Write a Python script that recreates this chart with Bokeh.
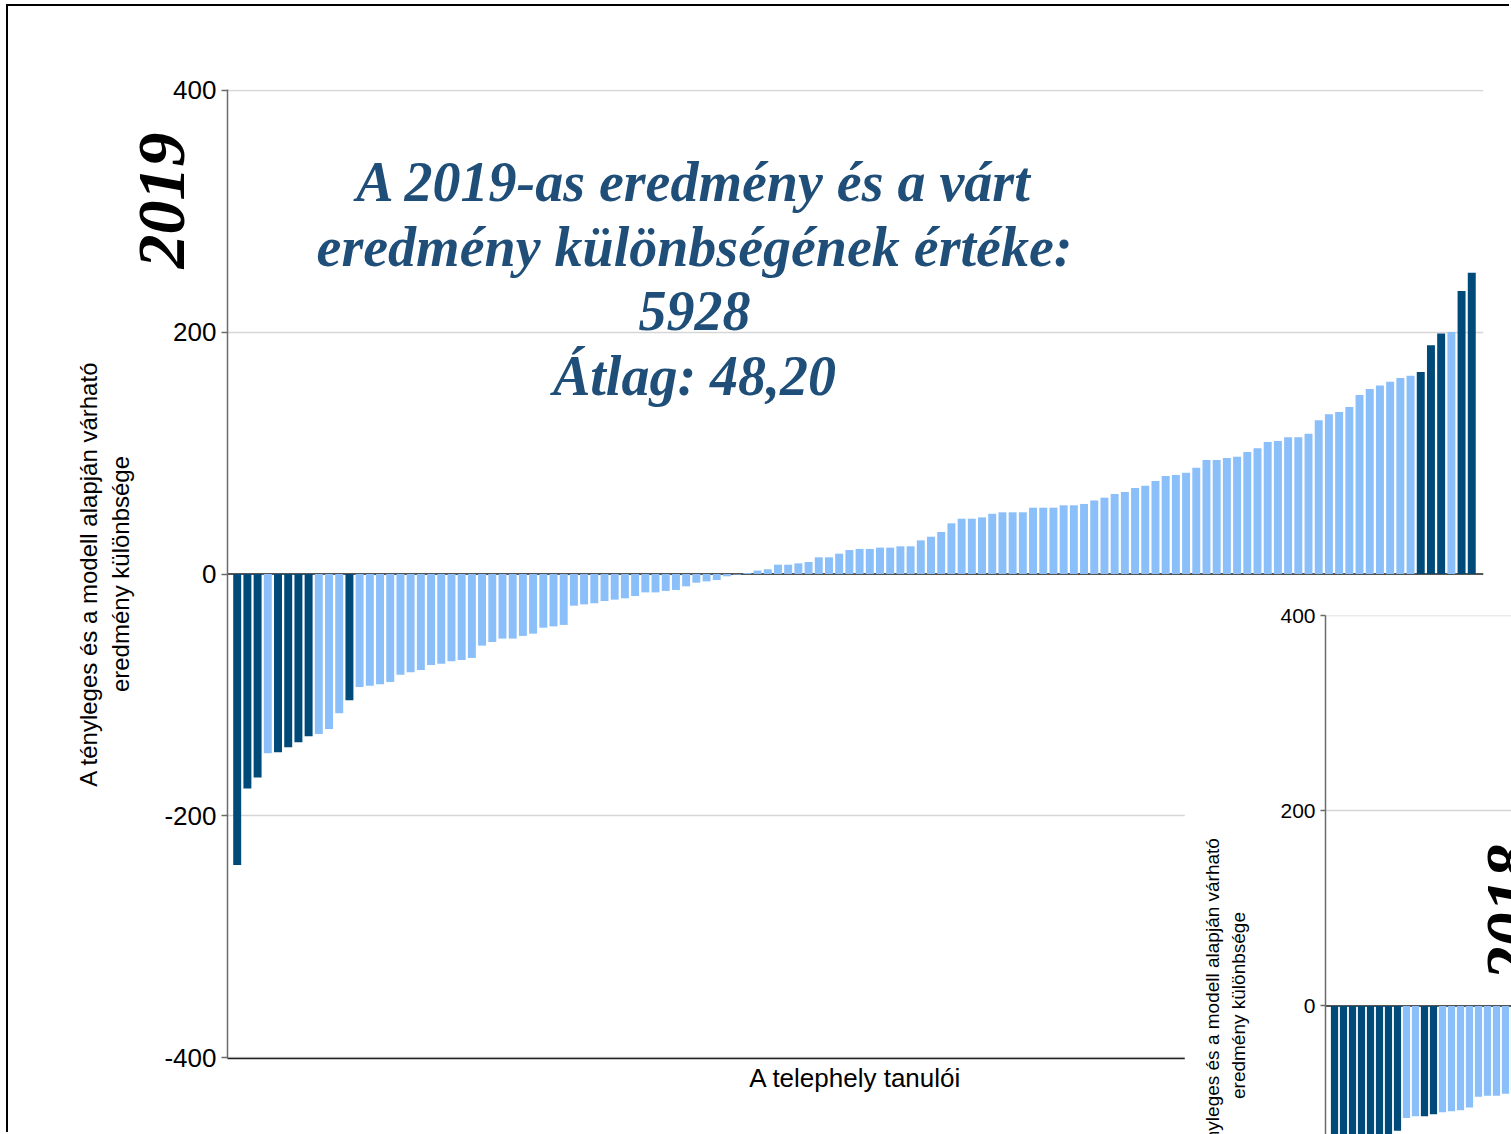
import math
from bokeh.plotting import figure
from bokeh.models import ColumnDataSource, FixedTicker, Span, Range1d
from bokeh.layouts import column
from bokeh.core.properties import value
from bokeh.embed import file_html
from bokeh.resources import INLINE

# ---------------- data ----------------
# 2019: difference between actual and model-expected result, per student (sorted)
values_2019 = [
    -240.5, -177.4, -168.3, -148.2, -147.4, -143.3, -139.1, -134.2, -132.2, -128.1,
    -115.2, -104.4, -93.4, -92.3, -91.2, -89.3, -83.2, -81.3, -79.3, -75.2,
    -74.1, -72.2, -71.1, -69.4, -59.2, -56.2, -53.4, -53.4, -51.2, -49.3,
    -44.4, -43.3, -42.1, -26.2, -25.1, -24.2, -22.3, -21.2, -20.1, -18.2,
    -15.2, -15.2, -14.0, -13.2, -10.2, -7.2, -6.1, -5.0, -1.9, -0.5,
    0.8, 2.8, 3.9, 7.7, 7.7, 8.8, 9.9, 13.8, 13.8, 16.8,
    19.8, 20.7, 20.7, 21.8, 21.8, 22.9, 22.9, 27.8, 30.8, 34.7,
    41.9, 45.7, 45.7, 46.8, 49.8, 51.0, 51.0, 51.0, 54.8, 54.8,
    54.8, 56.8, 56.8, 57.9, 60.8, 63.1, 66.1, 67.8, 71.1, 73.0,
    76.9, 81.0, 81.8, 83.7, 87.9, 94.2, 94.2, 95.9, 97.0, 100.8,
    103.9, 109.1, 109.9, 113.0, 113.0, 116.0, 127.0, 132.0, 133.9, 138.0,
    147.9, 152.9, 155.9, 158.9, 162.0, 163.9, 166.9, 189.0, 198.9, 200.0,
    233.9, 249.0,
]
# 1-based positions of highlighted (dark) bars in 2019
highlight_2019 = [1, 2, 3, 5, 6, 7, 8, 12, 117, 118, 119, 121, 122]

# 2018: only the visible left part of the second chart
values_2018 = [-215, -190, -178, -165, -155, -146, -133, -128, -115, -113,
               -113, -111, -109, -108, -107, -104, -93, -92, -92, -90, -88]
highlight_2018 = [1, 2, 3, 4, 5, 6, 7, 8, 11, 12]

y_ticks = [-400, -200, 0, 200, 400]
y_tick_labels = {-400: "-400", -200: "-200", 0: "0", 200: "200", 400: "400"}
title_lines = ["A 2019-as eredmény és a várt",
               "eredmény különbségének értéke:",
               "5928",
               "Átlag: 48,20"]
y_label = "A tényleges és a modell alapján várható\neredmény különbsége"
x_label = "A telephely tanulói"

DARK = "#004A7A"
LIGHT = "#8BBFF9"
TITLE_COLOR = "#1F4E79"
SANS = "Liberation Sans"
SERIF = "Liberation Serif"


def colors(n, hl):
    return [DARK if (i + 1) in hl else LIGHT for i in range(n)]


def style_y_axis(p, tick_size, tick_out):
    ax = p.yaxis[0]
    ax.ticker = FixedTicker(ticks=y_ticks)
    ax.major_label_overrides = y_tick_labels
    ax.major_label_text_font = SANS
    ax.major_label_text_font_size = tick_size
    ax.major_label_text_color = "black"
    ax.axis_line_color = "#6b6b6b"
    ax.axis_line_width = 1.5
    ax.major_tick_line_color = "#6b6b6b"
    ax.major_tick_line_width = 1.5
    ax.major_tick_out = tick_out
    ax.major_tick_in = 0
    ax.minor_tick_line_color = None
    ax.major_label_standoff = 5
    p.ygrid.ticker = FixedTicker(ticks=[-400, -200, 200, 400])
    p.ygrid.grid_line_color = "#d6d6d6"
    p.ygrid.grid_line_width = 1.5
    p.xgrid.visible = False
    p.outline_line_color = None
    p.add_layout(Span(location=0, dimension="width", line_color="#555555",
                      line_width=2, level="underlay"))


# ---------------- 2019 chart ----------------
n1 = len(values_2019)
src1 = ColumnDataSource(dict(x=list(range(n1)), top=values_2019,
                             color=colors(n1, highlight_2019)))

p1 = figure(width=1503, height=1128,
            x_range=Range1d(-0.95, 122.15), y_range=Range1d(-400.5, 400.5),
            output_backend="svg", toolbar_location=None, title=None,
            min_border_left=219, min_border_right=28,
            min_border_top=83, min_border_bottom=76,
            frame_align=False, margin=(6, 0, 0, 8))
p1.styles = {"box-shadow": "-2px -2px 0 0 #000000"}
style_y_axis(p1, "26px", 6)
p1.yaxis.axis_label = y_label
p1.yaxis.axis_label_text_font = SANS
p1.yaxis.axis_label_text_font_size = "24px"
p1.yaxis.axis_label_text_font_style = "normal"
p1.yaxis.axis_label_text_color = "black"
p1.yaxis.axis_label_standoff = 27

xa = p1.xaxis[0]
xa.ticker = FixedTicker(ticks=[])
xa.major_label_text_font_size = "0px"
xa.major_label_standoff = 0
xa.major_tick_out = 0
xa.major_tick_in = 0
xa.minor_tick_line_color = None
xa.axis_line_color = "#222222"
xa.axis_line_width = 1.5
xa.axis_label = x_label
xa.axis_label_text_font = SANS
xa.axis_label_text_font_size = "26px"
xa.axis_label_text_font_style = "normal"
xa.axis_label_text_color = "black"
xa.axis_label_standoff = 4

p1.vbar(x="x", top="top", bottom=0, width=0.78, fill_color="color",
        line_color=None, source=src1)

# ---------------- 2018 chart (partly visible) ----------------
n2 = len(values_2018)
src2 = ColumnDataSource(dict(x=list(range(n2)), top=values_2018,
                             color=colors(n2, highlight_2018)))

p2 = figure(width=327, height=544,
            x_range=Range1d(-1.0, 19.67), y_range=Range1d(-131.8, 400.5),
            output_backend="svg", toolbar_location=None, title=None,
            x_axis_location=None,
            min_border_left=141, min_border_right=0,
            min_border_top=25, min_border_bottom=0,
            frame_align=False, margin=(-544, 0, 0, 1184))
style_y_axis(p2, "21px", 5)
p2.vbar(x="x", top="top", bottom=0, width=0.8, fill_color="color",
        line_color=None, source=src2)

# ---------------- transparent overlay for free-standing texts ----------------
p3 = figure(width=1511, height=1134,
            x_range=Range1d(0, 1511), y_range=Range1d(1134, 0),
            output_backend="svg", toolbar_location=None, title=None,
            x_axis_location=None, y_axis_location=None,
            min_border=0, background_fill_color=None, border_fill_color=None,
            outline_line_color=None, frame_align=False,
            margin=(-1134, 0, 0, 0))
p3.grid.visible = False

# chart title (centre of each line, page pixels)
p3.text(x=[694, 694, 694, 694], y=[181, 246, 310, 375], text=title_lines,
        text_font=value(SERIF), text_font_style="bold italic",
        text_font_size="56px", text_color=TITLE_COLOR,
        text_align="center", text_baseline="middle")
# year markers
p3.text(x=[161.5, 1509], y=[200, 912], text=["2019", "2018"],
        angle=math.pi / 2, text_font=value(SERIF),
        text_font_style="bold italic", text_font_size="68px",
        text_color="black", text_align="center", text_baseline="middle")
# y-axis title of the second chart
p3.text(x=[1225], y=[1005], text=[y_label], angle=math.pi / 2,
        text_font=value(SANS), text_font_size="19px", text_color="black",
        text_align="center", text_baseline="middle")

layout = column(p1, p2, p3, spacing=0)

with open("out.html", "w") as f:
    f.write(file_html(layout, INLINE))
